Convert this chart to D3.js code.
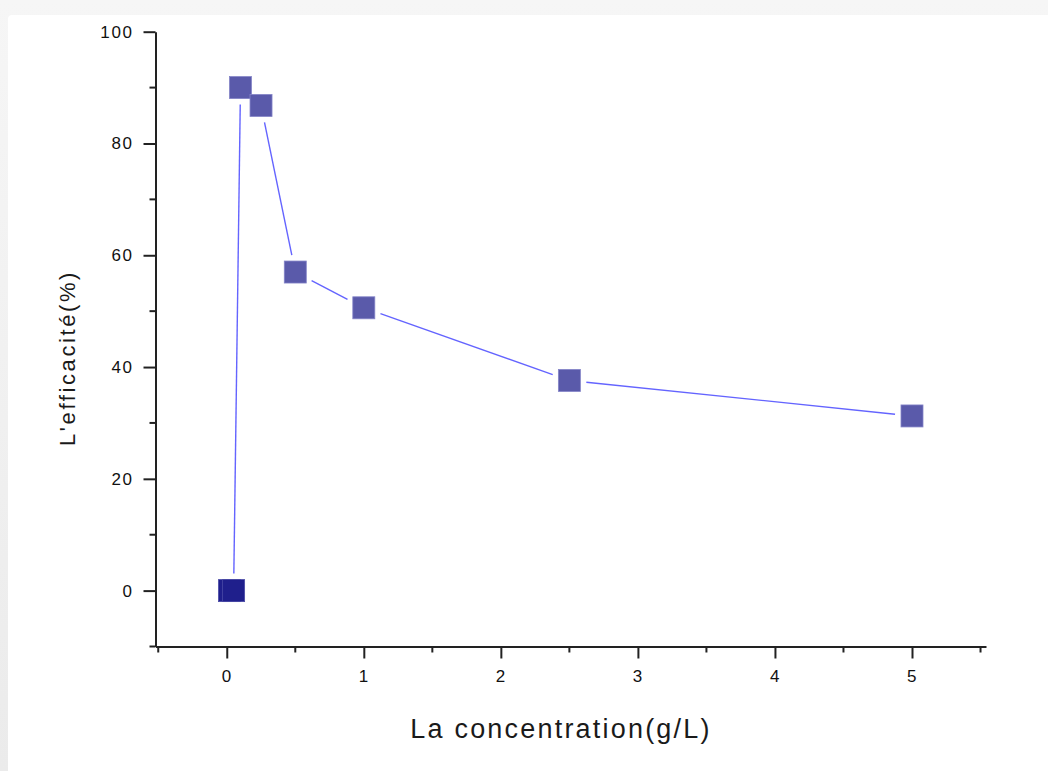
<!DOCTYPE html>
<html>
<head>
<meta charset="utf-8">
<script src="https://cdn.jsdelivr.net/npm/d3@7"></script>
<style>
  body { margin: 0; background: #f2f2f2; }
  #chart { position: absolute; left: 0; top: 0; }
</style>
</head>
<body>
<div id="chart"></div>
<script>
// data
var concentration = [0.02, 0.05, 0.1, 0.25, 0.5, 1, 2.5, 5];
var efficacite = [0, 0, 90, 86.8, 57, 50.6, 37.6, 31.25];
var xTicks = [0, 1, 2, 3, 4, 5];
var yTicks = [0, 20, 40, 60, 80, 100];
var xTitle = "La concentration(g/L)";
var yTitle = "L'efficacité(%)";

var width = 1048, height = 771;
var svg = d3.select("#chart").append("svg")
    .attr("width", width)
    .attr("height", height);

// grey window frame + white panel
var bg = svg.append("defs").append("linearGradient")
    .attr("id", "frame").attr("x1", 0).attr("x2", 0).attr("y1", 0).attr("y2", 1);
bg.append("stop").attr("offset", "0%").attr("stop-color", "#f6f6f6");
bg.append("stop").attr("offset", "100%").attr("stop-color", "#ebebeb");
svg.append("rect").attr("width", width).attr("height", height).attr("fill", "url(#frame)");
svg.append("rect")
    .attr("x", 8).attr("y", 15)
    .attr("width", width).attr("height", height)
    .attr("rx", 4)
    .attr("fill", "#ffffff");

var x = d3.scaleLinear().domain([-0.52, 5.54]).range([155.5, 986]);
var y = d3.scaleLinear().domain([-10, 100]).range([646.5, 31.7]);

var axisColor = "#222";
var font = "Arial, 'Liberation Sans', sans-serif";

// x axis
var xAxis = svg.append("g")
    .attr("transform", "translate(0," + y(-10) + ")")
    .call(d3.axisBottom(x).tickValues(xTicks).tickSize(12).tickSizeOuter(0).tickFormat(d3.format("d")));
xAxis.append("g").selectAll("line")
    .data(d3.range(-0.5, 5.6, 1))
    .enter().append("line")
    .attr("x1", function(d) { return x(d); })
    .attr("x2", function(d) { return x(d); })
    .attr("y1", 0).attr("y2", 6);

// y axis
var yAxis = svg.append("g")
    .attr("transform", "translate(" + x(-0.52) + ",0)")
    .call(d3.axisLeft(y).tickValues(yTicks).tickSize(12).tickSizeOuter(0).tickPadding(10).tickFormat(d3.format("d")));
yAxis.append("g").selectAll("line")
    .data(d3.range(-10, 100, 20))
    .enter().append("line")
    .attr("x1", 0).attr("x2", -6)
    .attr("y1", function(d) { return y(d); })
    .attr("y2", function(d) { return y(d); });

[xAxis, yAxis].forEach(function(a) {
    a.selectAll("path.domain").attr("stroke", axisColor).attr("stroke-width", 2);
    a.selectAll("line").attr("stroke", axisColor).attr("stroke-width", 2);
    a.selectAll("text")
        .attr("fill", "#111")
        .style("font-family", font)
        .style("font-size", "17px")
        .style("letter-spacing", "1.6px");
});
xAxis.selectAll(".tick text").attr("y", 30).attr("dy", "0.35em");

// titles
svg.append("text")
    .attr("x", 561).attr("y", 738)
    .attr("text-anchor", "middle")
    .attr("fill", "#1a1a1a")
    .style("font-family", font)
    .style("font-size", "27px")
    .style("letter-spacing", "2.2px")
    .text(xTitle);

svg.append("text")
    .attr("transform", "translate(75,358) rotate(-90)")
    .attr("text-anchor", "middle")
    .attr("fill", "#1a1a1a")
    .style("font-family", font)
    .style("font-size", "22px")
    .style("letter-spacing", "2.6px")
    .text(yTitle);

// points
var points = concentration.map(function(c, i) {
    return { cx: x(c), cy: y(efficacite[i]), v: efficacite[i] };
});

var half = 11, gap = 6;
var segs = [];
for (var i = 0; i < points.length - 1; i++) {
    var a = points[i], b = points[i + 1];
    var dx = b.cx - a.cx, dy = b.cy - a.cy;
    var len = Math.sqrt(dx * dx + dy * dy);
    if (len == 0) continue;
    var ux = dx / len, uy = dy / len;
    var cut = half / Math.max(Math.abs(ux), Math.abs(uy)) + gap;
    if (len <= 2 * cut) continue;
    segs.push({
        x1: a.cx + ux * cut, y1: a.cy + uy * cut,
        x2: b.cx - ux * cut, y2: b.cy - uy * cut
    });
}

svg.append("g").selectAll("line")
    .data(segs)
    .enter().append("line")
    .attr("x1", function(d) { return d.x1; })
    .attr("y1", function(d) { return d.y1; })
    .attr("x2", function(d) { return d.x2; })
    .attr("y2", function(d) { return d.y2; })
    .attr("stroke", "#6464ff")
    .attr("stroke-width", 1.4);

svg.append("g").selectAll("rect")
    .data(points)
    .enter().append("rect")
    .attr("x", function(d) { return d.cx - half; })
    .attr("y", function(d) { return d.cy - half; })
    .attr("width", 2 * half)
    .attr("height", 2 * half)
    .attr("fill", function(d) { return d.v === 0 ? "#1f1f8c" : "#5a5aaa"; })
    .attr("stroke", function(d) { return d.v === 0 ? "#4a4aa6" : "#8484c8"; })
    .attr("stroke-width", 0.8);
</script>
</body>
</html>
